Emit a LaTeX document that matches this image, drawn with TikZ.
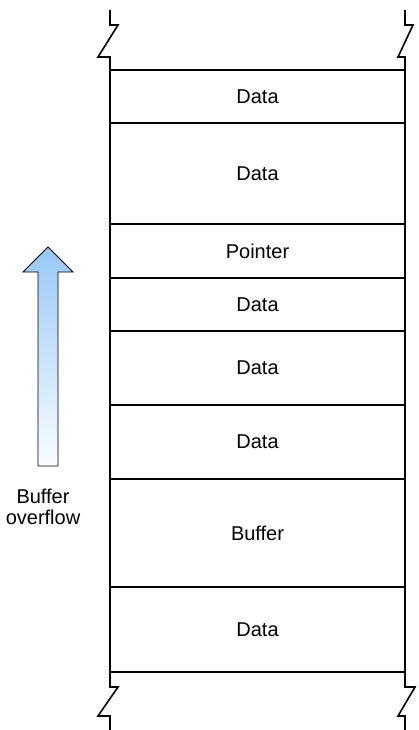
\documentclass[tikz,border=0pt]{standalone}
\usepackage{fontspec}
\setmainfont{Liberation Sans}
\begin{document}
\begin{tikzpicture}[x=1pt,y=-1pt,
  row/.style={draw=black,line width=1.6pt,minimum width=295pt,inner sep=0pt,outer sep=0pt,font=\fontsize{20}{24}\selectfont},
  side/.style={draw=black,line width=1.6pt,line join=miter}]
\useasboundingbox (0,0) rectangle (418,730);
\node[row,minimum height=53pt] (r1) at (257.5,96.5) {Data};
\node[row,minimum height=101pt] (r2) at (257.5,173.5) {Data};
\node[row,minimum height=54pt] (r3) at (257.5,251) {Pointer};
\node[row,minimum height=53pt] (r4) at (257.5,304.5) {Data};
\node[row,minimum height=74pt] (r5) at (257.5,368) {Data};
\node[row,minimum height=74pt] (r6) at (257.5,442) {Data};
\node[row,minimum height=108pt] (r7) at (257.5,533) {Buffer};
\node[row,minimum height=85pt] (r8) at (257.5,629.5) {Data};
% break marks
\draw[side] (r1.north west) -- ++(0,-13) -- ++(-12,0) -- ++(20,-32) -- ++(-8,0) -- ++(0,-15);
\draw[side] (r1.north east) -- ++(0,-13) -- ++(-7,0) -- ++(15,-32) -- ++(-8,0) -- ++(0,-15);
\draw[side] (r8.south west) -- ++(0,15) -- ++(8,0) -- ++(-20,29) -- ++(12,0) -- ++(0,14);
\draw[side] (r8.south east) -- ++(0,15) -- ++(10,0) -- ++(-17,29) -- ++(7,0) -- ++(0,14);
% arrow
\shade[top color={rgb,255:red,152;green,200;blue,246},bottom color={rgb,255:red,250;green,252;blue,255},draw=black,line width=0.9pt]
  (38,466) -- (38,272) -- (23,272) -- (48,247) -- (73,272) -- (58,272) -- (58,466) -- cycle;
\node[font=\fontsize{20}{21}\selectfont,align=center,inner sep=0pt] (lbl) at (43,507) {Buffer\\overflow};
\end{tikzpicture}
\end{document}
